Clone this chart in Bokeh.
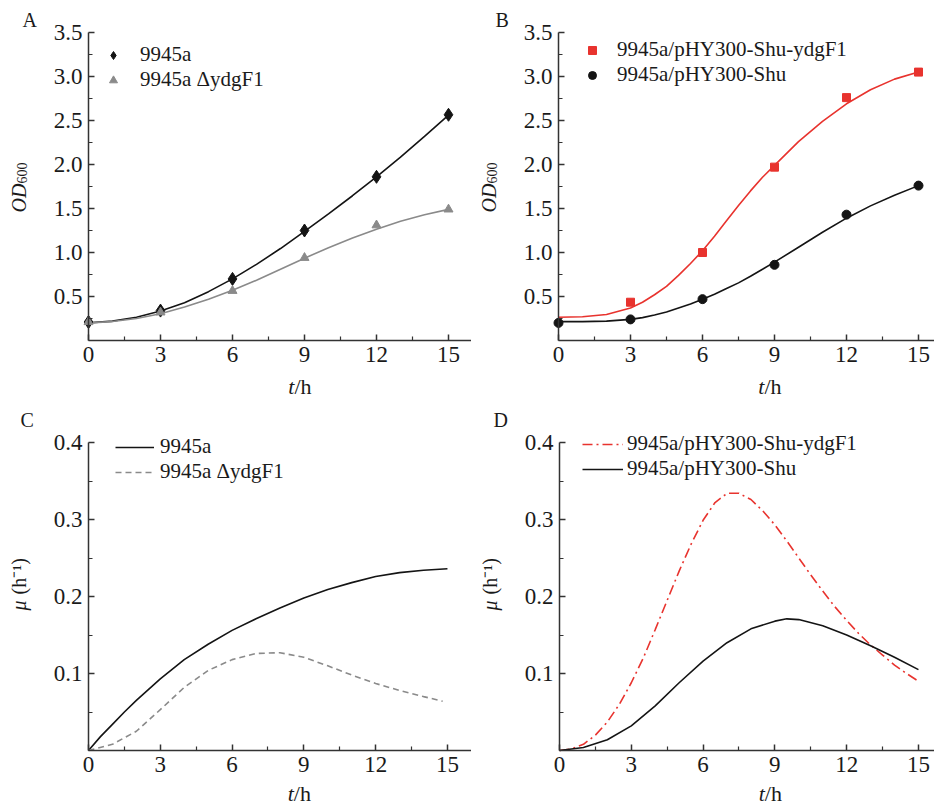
import numpy as np
from bokeh.plotting import figure
from bokeh.models import Range1d, FixedTicker, Legend, LegendItem, Label, PrintfTickFormatter
from bokeh.layouts import column, row
from bokeh.embed import file_html
from bokeh.resources import INLINE

SERIF = "Liberation Serif"

# ---------------- data ----------------
t_pts = [0, 3, 6, 9, 12, 15]
t_red_pts = [3, 6, 9, 12, 15]
t_fit = [0, 1, 2, 3, 4, 5, 6, 7, 8, 9, 10, 11, 12, 13, 14, 15]

# Panel A: OD600
a_wt_pts = [0.21, 0.34, 0.70, 1.25, 1.86, 2.565]
a_del_pts = [0.21, 0.32, 0.565, 0.94, 1.31, 1.49]
a_wt_fit = [0.20, 0.22, 0.265, 0.335, 0.43, 0.555, 0.70, 0.865, 1.045, 1.24, 1.44, 1.645, 1.86, 2.085, 2.32, 2.56]
a_del_fit = [0.20, 0.215, 0.25, 0.305, 0.38, 0.47, 0.57, 0.685, 0.81, 0.935, 1.055, 1.165, 1.265, 1.355, 1.43, 1.49]

# Panel B: OD600
b_ydg_pts = [0.435, 1.00, 1.97, 2.76, 3.05]
b_shu_pts = [0.20, 0.24, 0.47, 0.86, 1.43, 1.76]
b_fit_t = [0, 1, 2, 3, 3.5, 4, 4.5, 5, 5.5, 6, 6.5, 7, 7.5, 8, 8.5, 9, 10, 11, 12, 13, 14, 15]
b_ydg_fit = [0.265, 0.27, 0.295, 0.37, 0.435, 0.52, 0.615, 0.74, 0.875, 1.02, 1.185, 1.36, 1.535,
             1.70, 1.855, 1.99, 2.26, 2.49, 2.69, 2.85, 2.97, 3.05]
b_shu_fit = [0.215, 0.215, 0.22, 0.24, 0.26, 0.29, 0.325, 0.37, 0.415, 0.47, 0.525, 0.59, 0.655,
             0.73, 0.81, 0.89, 1.06, 1.23, 1.39, 1.53, 1.65, 1.76]

# Panel C: specific growth rate
c_t = [0, 0.5, 1, 1.5, 2, 3, 4, 5, 6, 7, 8, 9, 10, 11, 12, 13, 14, 15]
c_wt_mu = [0, 0.018, 0.034, 0.05, 0.065, 0.093, 0.118, 0.138, 0.156, 0.171, 0.185, 0.198, 0.209, 0.218, 0.226, 0.231, 0.234, 0.236]
c_del_t = [0, 1, 2, 3, 4, 5, 6, 7, 8, 9, 10, 11, 12, 13, 14, 14.8]
c_del_mu = [0, 0.008, 0.025, 0.053, 0.082, 0.104, 0.118, 0.126, 0.127, 0.121, 0.11, 0.098, 0.087, 0.078, 0.07, 0.064]

# Panel D: specific growth rate
d_ydg_t = [0, 0.5, 1, 1.5, 2, 2.5, 3, 3.5, 4, 4.5, 5, 5.5, 6, 6.5, 7, 7.5, 8, 8.5, 9, 9.5,
           10, 10.5, 11, 11.5, 12, 12.5, 13, 13.5, 14, 14.5, 15]
d_ydg_mu = [0, 0.002, 0.008, 0.02, 0.037, 0.06, 0.088, 0.12, 0.157, 0.195, 0.233, 0.268, 0.299, 0.322,
            0.334, 0.334, 0.326, 0.311, 0.293, 0.272, 0.25, 0.228, 0.207, 0.187, 0.169, 0.152,
            0.137, 0.124, 0.111, 0.10, 0.09]
d_shu_t = [0, 1, 2, 3, 4, 5, 6, 7, 8, 9, 9.5, 10, 11, 12, 13, 14, 15]
d_shu_mu = [0, 0.004, 0.014, 0.032, 0.058, 0.088, 0.116, 0.140, 0.158, 0.168, 0.171, 0.170, 0.162, 0.150, 0.136, 0.121, 0.105]

x_ticks = [0, 3, 6, 9, 12, 15]
x_minor = [1.5, 4.5, 7.5, 10.5, 13.5]
od_ticks = [0.5, 1.0, 1.5, 2.0, 2.5, 3.0, 3.5]
od_minor = [0.25, 0.75, 1.25, 1.75, 2.25, 2.75, 3.25]
mu_ticks = [0.1, 0.2, 0.3, 0.4]
mu_minor = [0.05, 0.15, 0.25, 0.35]

BLACK = "#141414"
GRAY = "#8a8a8a"
RED = "#e8332e"
AXIS = "#333333"


def make_fig(width, height, x0_px, xscale, y0_px, ytop_px, ymax, yticks, yminor):
    """Frame covers the whole figure; axes are pinned at data 0 with bounds."""
    xs = -x0_px / xscale
    xe = (width - x0_px) / xscale
    yscale = (y0_px - ytop_px) / ymax
    ys = -(height - y0_px) / yscale
    ye = ymax + ytop_px / yscale
    p = figure(width=width, height=height, output_backend="svg", toolbar_location=None,
               x_range=Range1d(xs, xe), y_range=Range1d(ys, ye), min_border=0)
    p.outline_line_color = None
    p.background_fill_color = "white"
    p.border_fill_color = "white"
    p.xgrid.grid_line_color = None
    p.ygrid.grid_line_color = None
    p.xaxis.fixed_location = 0
    p.yaxis.fixed_location = 0
    p.xaxis.bounds = (0, xe)
    p.yaxis.bounds = (0, ymax)
    p.xaxis.ticker = FixedTicker(ticks=x_ticks, minor_ticks=x_minor)
    p.yaxis.ticker = FixedTicker(ticks=yticks, minor_ticks=yminor)
    p.xaxis.formatter = PrintfTickFormatter(format="%d")
    p.yaxis.formatter = PrintfTickFormatter(format="%.1f")
    for ax in (p.xaxis, p.yaxis):
        ax.axis_line_color = AXIS
        ax.axis_line_width = 1.5
        ax.major_tick_line_color = AXIS
        ax.major_tick_line_width = 1.5
        ax.minor_tick_line_color = AXIS
        ax.minor_tick_line_width = 1.2
        ax.major_tick_in = 6
        ax.major_tick_out = 0
        ax.minor_tick_in = 4
        ax.minor_tick_out = 0
        ax.major_label_text_font = SERIF
        ax.major_label_text_font_size = "23px"
        ax.major_label_text_color = "#1a1a1a"
    p.xaxis.major_label_standoff = 6
    p.yaxis.major_label_standoff = 6
    return p


def add_legend(p, items, vx, vy, glyph_w, standoff):
    leg = Legend(items=items, location=(vx, vy), padding=0, margin=0, spacing=0,
                 glyph_width=glyph_w, glyph_height=20, label_standoff=standoff,
                 label_text_font=SERIF, label_text_font_size="21px", label_height=20,
                 label_text_color="#1a1a1a",
                 border_line_color=None, background_fill_alpha=0)
    p.add_layout(leg)


def lab(p, text, xo, yo, size, style="normal", angle=0.0, align="left", x=0.0):
    p.add_layout(Label(x=x, y=0, x_units="data", y_units="data", x_offset=xo, y_offset=yo,
                       text=text, text_font=SERIF, text_font_size=size,
                       text_font_style=style, angle=angle, text_align=align,
                       text_baseline="alphabetic", text_color="#1a1a1a"))


def xlabel(p, x, yo):
    lab(p, "t", 0, yo, "22px", style="italic", align="right", x=x)
    lab(p, "/h", 0, yo, "22px", align="left", x=x)


def od_label(p):
    lab(p, "OD", -70, 128, "20px", style="italic", angle=np.pi / 2)
    lab(p, "600", -67, 157, "14px", angle=np.pi / 2)


def mu_label(p):
    lab(p, "\u03bc", -70, 140, "20px", style="italic", angle=np.pi / 2)
    lab(p, "(h\u207b\u00b9)", -70, 156, "20px", angle=np.pi / 2)


# ---------------- Panel A ----------------
pA = make_fig(471, 400, 88, 24.0, 340, 32, 3.5, od_ticks, od_minor)
pA.line(t_fit, a_wt_fit, line_color=BLACK, line_width=1.6)
pA.line(t_fit, a_del_fit, line_color=GRAY, line_width=1.6)
rA1 = pA.scatter(t_pts, a_wt_pts, marker="diamond", size=13, fill_color=BLACK, line_color=BLACK)
rA2 = pA.scatter(t_pts, a_del_pts, marker="triangle", size=9, fill_color=GRAY, line_color=GRAY)
add_legend(pA, [LegendItem(label="9945a", renderers=[rA1]),
                LegendItem(label="9945a \u0394ydgF1", renderers=[rA2])], 103, 308, 20, 17)
od_label(pA)
xlabel(pA, 8.58, -46)
lab(pA, "A", -66, 321, "20px")

# ---------------- Panel B ----------------
pB = make_fig(463, 400, 87, 24.0, 340, 32, 3.5, od_ticks, od_minor)
pB.line(b_fit_t, b_ydg_fit, line_color=RED, line_width=1.6)
pB.line(b_fit_t, b_shu_fit, line_color=BLACK, line_width=1.6)
rB1 = pB.scatter(t_red_pts, b_ydg_pts, marker="square", size=8, fill_color=RED, line_color=RED)
rB2 = pB.scatter(t_pts, b_shu_pts, marker="circle", size=9, fill_color=BLACK, line_color=BLACK)
add_legend(pB, [LegendItem(label="9945a/pHY300-Shu-ydgF1", renderers=[rB1]),
                LegendItem(label="9945a/pHY300-Shu", renderers=[rB2])], 111, 313, 20, 15)
od_label(pB)
xlabel(pB, 8.58, -46)
lab(pB, "B", -63, 321, "20px")

# ---------------- Panel C ----------------
pC = make_fig(471, 410, 88, 23.93, 350, 42, 0.4, mu_ticks, mu_minor)
rC1 = pC.line(c_t, c_wt_mu, line_color=BLACK, line_width=1.6)
rC2 = pC.line(c_del_t, c_del_mu, line_color=GRAY, line_width=1.6, line_dash="6 4")
add_legend(pC, [LegendItem(label="9945a", renderers=[rC1]),
                LegendItem(label="9945a \u0394ydgF1", renderers=[rC2])], 115, 326, 39, 6)
mu_label(pC)
xlabel(pC, 8.58, -43)
lab(pC, "C", -68, 331, "20px")

# ---------------- Panel D ----------------
pD = make_fig(463, 410, 88, 23.93, 350, 42, 0.4, mu_ticks, mu_minor)
rD1 = pD.line(d_ydg_t, d_ydg_mu, line_color=RED, line_width=1.6, line_dash="10 4 2 4")
rD2 = pD.line(d_shu_t, d_shu_mu, line_color=BLACK, line_width=1.6)
add_legend(pD, [LegendItem(label="9945a/pHY300-Shu-ydgF1", renderers=[rD1]),
                LegendItem(label="9945a/pHY300-Shu", renderers=[rD2])], 111, 329, 41, 4)
mu_label(pD)
xlabel(pD, 8.58, -43)
lab(pD, "D", -66, 331, "20px")

layout = column(row(pA, pB), row(pC, pD))
open("out.html", "w").write(file_html(layout, INLINE))
